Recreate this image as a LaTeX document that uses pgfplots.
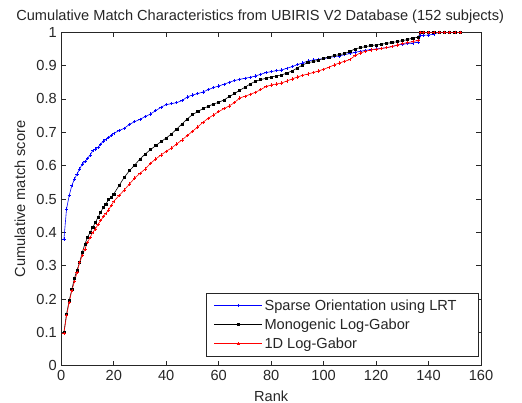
\documentclass[border=0pt]{standalone}
\usepackage{pgfplots}
\pgfplotsset{compat=1.18}
\usepackage{pgfplotstable}
\usepackage{fontspec}
\setmainfont{Liberation Sans}

\pgfplotstableread{
r y
1 0.38
2 0.47
3 0.51
4 0.54
5 0.56
6 0.575
7 0.59
8 0.605
9 0.612
10 0.622
11 0.632
12 0.645
13 0.65
14 0.655
15 0.664
16 0.674
17 0.678
18 0.684
19 0.69
20 0.697
22 0.705
24 0.712
26 0.724
28 0.732
30 0.739
32 0.747
34 0.755
36 0.765
38 0.775
40 0.783
42 0.786
44 0.789
46 0.795
48 0.806
50 0.812
52 0.816
54 0.821
56 0.828
58 0.834
60 0.839
62 0.844
64 0.85
66 0.855
68 0.859
70 0.862
72 0.865
74 0.869
76 0.874
78 0.879
80 0.882
82 0.885
84 0.887
86 0.892
88 0.897
90 0.903
92 0.908
94 0.914
96 0.917
98 0.919
100 0.921
102 0.924
104 0.927
106 0.929
108 0.933
110 0.936
112 0.94
114 0.943
116 0.946
118 0.948
120 0.95
122 0.952
124 0.954
126 0.957
128 0.961
130 0.964
132 0.966
134 0.968
136 0.971
137 0.99
138 0.991
140 0.992
142 0.994
144 1.0
146 1.0
148 1.0
150 1.0
152 1.0
}\sparse

\pgfplotstableread{
r y
1 0.10
2 0.155
3 0.195
4 0.228
5 0.262
6 0.287
7 0.31
8 0.34
9 0.365
10 0.385
11 0.40
12 0.415
13 0.43
14 0.445
15 0.46
16 0.475
17 0.485
18 0.498
19 0.505
20 0.515
22 0.54
24 0.565
26 0.585
28 0.602
30 0.62
32 0.635
34 0.648
36 0.66
38 0.672
40 0.683
42 0.695
44 0.71
46 0.725
48 0.74
50 0.753
52 0.762
54 0.771
56 0.778
58 0.785
60 0.79
62 0.797
64 0.807
66 0.816
68 0.826
70 0.835
72 0.845
74 0.853
76 0.858
78 0.862
80 0.866
82 0.869
84 0.872
86 0.878
88 0.884
90 0.893
92 0.902
94 0.909
96 0.912
98 0.916
100 0.922
102 0.926
104 0.93
106 0.933
108 0.936
110 0.943
112 0.95
114 0.954
116 0.957
118 0.96
120 0.962
122 0.964
124 0.967
126 0.969
128 0.972
130 0.975
132 0.978
134 0.983
136 0.985
137 1.0
138 1.0
140 1.0
142 1.0
144 1.0
146 1.0
148 1.0
150 1.0
152 1.0
}\mono

\pgfplotstableread{
r y
1 0.097
2 0.15
3 0.19
4 0.225
5 0.252
6 0.28
7 0.31
8 0.33
9 0.35
10 0.37
11 0.385
12 0.40
13 0.41
14 0.424
15 0.435
16 0.447
17 0.457
18 0.467
19 0.48
20 0.493
22 0.51
24 0.527
26 0.545
28 0.563
30 0.577
32 0.59
34 0.607
36 0.62
38 0.632
40 0.643
42 0.653
44 0.665
46 0.677
48 0.69
50 0.703
52 0.716
54 0.73
56 0.742
58 0.752
60 0.762
62 0.771
64 0.779
66 0.789
68 0.803
70 0.808
72 0.814
74 0.82
76 0.828
78 0.837
80 0.842
82 0.845
84 0.848
86 0.854
88 0.86
90 0.866
92 0.871
94 0.875
96 0.879
98 0.884
100 0.889
102 0.895
104 0.902
106 0.908
108 0.913
110 0.918
112 0.93
114 0.938
116 0.943
118 0.947
120 0.949
122 0.951
124 0.954
126 0.957
128 0.962
130 0.966
132 0.969
134 0.972
136 0.976
137 1.0
138 1.0
140 1.0
142 1.0
144 1.0
146 1.0
148 1.0
150 1.0
152 1.0
}\oned

\begin{document}
\begin{tikzpicture}
\begin{axis}[
  at={(0pt,0pt)}, anchor=south west,
  scale only axis,
  width=419.7pt, height=333.4pt,
  xmin=0, xmax=160, ymin=0, ymax=1,
  xtick={0,20,...,160},
  ytick={0,0.1,...,1},
  yticklabels={0,0.1,0.2,0.3,0.4,0.5,0.6,0.7,0.8,0.9,1},
  tick align=inside,
  major tick length=5pt,
  axis line style={black!85, line width=0.8pt},
  every tick/.style={black!85, line width=0.6pt},
  /pgf/number format/assume math mode=true,
  tick label style={font=\fontsize{14.6}{16}\selectfont, text=black!85},
  xticklabel style={yshift=-1pt},
  yticklabel style={xshift=-1pt},
  xlabel={Rank},
  ylabel={Cumulative match score},
  label style={font=\fontsize{14.6}{16}\selectfont, text=black!85},
  xlabel style={at={(axis description cs:0.5,-0.0909)}, anchor=center},
  ylabel style={at={(axis description cs:-0.0984,0.5)}, anchor=center},
  title={Cumulative Match Characteristics from UBIRIS V2 Database (152 subjects)},
  title style={font=\fontsize{14.6}{16}\selectfont, text=black!85, xshift=-11pt, yshift=-1pt},
  legend style={at={(1,0)}, anchor=south east, xshift=-2pt, yshift=9pt,
    font=\fontsize{14.6}{16}\selectfont, draw=black!85, line width=0.8pt,
    inner xsep=8pt, inner ysep=3pt, cells={anchor=west}, text=black!85,
    nodes={inner ysep=3.5pt}},
  legend image code/.code={
    \draw[#1, mark repeat=2, mark phase=2] plot coordinates {(0pt,0pt) (24pt,0pt) (48pt,0pt)};
  },
  legend cell align=left,
]
\addplot[blue, line width=0.6pt, mark=+, mark size=1.6pt, mark options={line width=0.5pt}] table[x=r,y=y] {\sparse};
\addlegendentry{Sparse Orientation using LRT\rule{12pt}{0pt}}
\addplot[black, line width=0.6pt, mark=square*, mark size=1.1pt] table[x=r,y=y] {\mono};
\addlegendentry{Monogenic Log-Gabor}
\addplot[red, line width=0.6pt, mark=+, mark size=1.6pt, mark options={line width=0.5pt}] table[x=r,y=y] {\oned};
\addlegendentry{1D Log-Gabor}
\end{axis}
\pgfresetboundingbox
\path[use as bounding box] (-61.3pt,-37.3pt) rectangle (460.7pt,365.7pt);
\end{tikzpicture}
\end{document}
